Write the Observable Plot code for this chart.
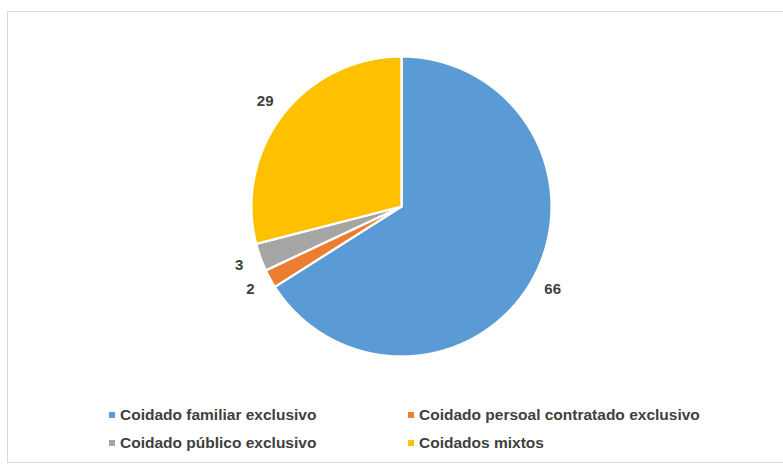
<!DOCTYPE html>
<html>
<head>
<meta charset="utf-8">
<script src="https://cdn.jsdelivr.net/npm/d3@7"></script>
<script src="https://cdn.jsdelivr.net/npm/@observablehq/plot@0.6"></script>
<style>
  html, body { margin: 0; padding: 0; background: #fff; }
  body { width: 783px; height: 465px; position: relative; overflow: hidden; font-family: "Liberation Sans", Arial, sans-serif; }
  #frame { position: absolute; left: 7px; top: 11px; width: 820px; height: 452px; border: 1px solid #d9d9d9; box-sizing: border-box; }
  #chart { position: absolute; left: 0; top: 0; }
  #legend { position: absolute; left: 109px; top: 401px; display: grid; grid-template-columns: 299px auto; }
  .item { height: 28px; line-height: 28px; font-size: 15.5px; font-weight: bold; color: #404040; white-space: nowrap; }
  .sw { display: inline-block; width: 6px; height: 6px; margin-right: 5px; vertical-align: middle; position: relative; top: -1px; }
</style>
</head>
<body>
<div id="frame"></div>
<div id="chart"></div>
<div id="legend"></div>
<script>
const categories = [
  "Coidado familiar exclusivo",
  "Coidado persoal contratado exclusivo",
  "Coidado público exclusivo",
  "Coidados mixtos"
];
const values = [66, 2, 3, 29];
const colors = ["#5B9BD5", "#ED7D31", "#A5A5A5", "#FFC000"];

const arcs = d3.pie().sort(null).value(d => d)(values);

const features = arcs.map((a, i) => {
  const n = Math.max(4, Math.ceil((a.endAngle - a.startAngle) / 0.005));
  const ring = [[0, 0]];
  for (let k = 0; k <= n; k++) {
    const t = a.startAngle + (a.endAngle - a.startAngle) * k / n;
    ring.push([Math.sin(t), -Math.cos(t)]);
  }
  ring.push([0, 0]);
  return {
    type: "Feature",
    properties: { name: categories[i], value: values[i], color: colors[i] },
    geometry: { type: "Polygon", coordinates: [ring] }
  };
});

const labelR = 1.15;
const labels = arcs.map((a, i) => {
  const m = (a.startAngle + a.endAngle) / 2;
  return { x: labelR * Math.sin(m), y: -labelR * Math.cos(m), text: String(values[i]) };
});

const chart = Plot.plot({
  width: 783,
  height: 390,
  marginLeft: 251,
  marginRight: 232,
  marginTop: 56,
  marginBottom: 34,
  projection: {
    type: "identity",
    clip: false,
    domain: { type: "MultiPoint", coordinates: [[-1, -1], [1, 1]] }
  },
  style: { background: "none", fontFamily: "Liberation Sans, Arial, sans-serif" },
  marks: [
    Plot.geo(features, {
      fill: d => d.properties.color,
      stroke: "white",
      strokeWidth: 2.25,
      strokeLinejoin: "round"
    }),
    Plot.text(labels, {
      x: "x", y: "y", text: "text",
      fontSize: 15, fontWeight: "bold", fill: "#404040",
      textAnchor: "middle", lineAnchor: "middle"
    })
  ]
});
document.getElementById("chart").appendChild(chart);

const legend = document.getElementById("legend");
categories.forEach((c, i) => {
  const item = document.createElement("div");
  item.className = "item";
  const sw = document.createElement("span");
  sw.className = "sw";
  sw.style.background = colors[i];
  item.appendChild(sw);
  item.appendChild(document.createTextNode(c));
  legend.appendChild(item);
});
</script>
</body>
</html>
